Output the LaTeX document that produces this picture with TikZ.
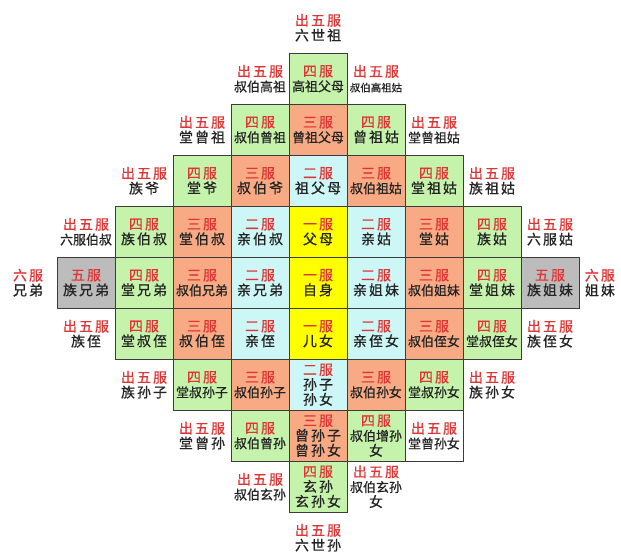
\documentclass[tikz,border=0pt]{standalone}
\usepackage{fontspec}
\setmainfont{Noto Sans CJK SC}[FakeBold=0.7]
\newfontfamily\widefont[LetterSpace=15, FakeBold=0.7]{Noto Sans CJK SC}
\usepackage{tikz}

\definecolor{fuRed}{RGB}{224,52,52}
\definecolor{txtGray}{RGB}{35,35,35}
\definecolor{edgeGray}{RGB}{60,60,60}
\definecolor{siGreen}{RGB}{198,243,172}
\definecolor{sanOrange}{RGB}{247,170,132}
\definecolor{erCyan}{RGB}{205,247,247}
\definecolor{yiYellow}{RGB}{255,255,0}
\definecolor{wuGray}{RGB}{188,188,188}

\newcommand{\fu}[1]{{\color{fuRed}#1}}
\newcommand{\four}[1]{{\normalfont\fontsize{13}{15}\selectfont #1}}
\newcommand{\five}[1]{{\normalfont\fontsize{10.5}{15}\selectfont #1}}

\begin{document}
\begin{tikzpicture}[
  x=58bp, y=51bp,
  cell/.style={rectangle, draw=edgeGray, line width=0.8pt, minimum width=58bp, minimum height=51bp, inner sep=0pt},
  free/.style={rectangle, minimum width=58bp, minimum height=51bp, inner sep=0pt},
  every node/.style={align=center, text=txtGray, font=\widefont\fontsize{14}{15}\selectfont}
]
  \useasboundingbox (-5.483,-5.418) rectangle (5.224,5.543);

  % Six generations up
  \node[free] (liushizu) at (0,5) {\fu{出五服}\\六世祖};

  % Great-great-grandparents
  \node[free] (shubogaozu) at (-1,4) {\fu{出五服}\\\four{叔伯高祖}};
  \node[cell, fill=siGreen] (gaozu) at (0,4) {\fu{四服}\\\four{高祖父母}};
  \node[free] (gaozugu) at (1,4) {\fu{出五服}\\\five{叔伯高祖姑}};

  % Great-grandparents
  \node[free] (tangzengzu) at (-2,3) {\fu{出五服}\\堂曾祖};
  \node[cell, fill=siGreen] (shubozengzu) at (-1,3) {\fu{四服}\\\four{叔伯曾祖}};
  \node[cell, fill=sanOrange] (zengzu) at (0,3) {\fu{三服}\\\four{曾祖父母}};
  \node[cell, fill=siGreen] (zengzugu) at (1,3) {\fu{四服}\\曾祖姑};
  \node[free] (tangzengzugu) at (2,3) {\fu{出五服}\\\four{堂曾祖姑}};

  % Grandparents
  \node[free] (zuye) at (-3,2) {\fu{出五服}\\族爷};
  \node[cell, fill=siGreen] (tangye) at (-2,2) {\fu{四服}\\堂爷};
  \node[cell, fill=sanOrange] (shuboye) at (-1,2) {\fu{三服}\\叔伯爷};
  \node[cell, fill=erCyan] (zufumu) at (0,2) {\fu{二服}\\祖父母};
  \node[cell, fill=sanOrange] (shubozugu) at (1,2) {\fu{三服}\\\four{叔伯祖姑}};
  \node[cell, fill=siGreen] (tangzugu) at (2,2) {\fu{四服}\\堂祖姑};
  \node[free] (zuzugu) at (3,2) {\fu{出五服}\\族祖姑};

  % Parents
  \node[free] (liufubo) at (-4,1) {\fu{出五服}\\\four{六服伯叔}};
  \node[cell, fill=siGreen] (zubo) at (-3,1) {\fu{四服}\\族伯叔};
  \node[cell, fill=sanOrange] (tangbo) at (-2,1) {\fu{三服}\\堂伯叔};
  \node[cell, fill=erCyan] (qinbo) at (-1,1) {\fu{二服}\\亲伯叔};
  \node[cell, fill=yiYellow] (fumu) at (0,1) {\fu{一服}\\父母};
  \node[cell, fill=erCyan] (qingu) at (1,1) {\fu{二服}\\亲姑};
  \node[cell, fill=sanOrange] (tanggu) at (2,1) {\fu{三服}\\堂姑};
  \node[cell, fill=siGreen] (zugu) at (3,1) {\fu{四服}\\族姑};
  \node[free] (liufugu) at (4,1) {\fu{出五服}\\六服姑};

  % Self
  \node[free] (xiongdi) at (-5,0) {\fu{六服}\\兄弟};
  \node[cell, fill=wuGray] (zuxiongdi) at (-4,0) {\fu{五服}\\族兄弟};
  \node[cell, fill=siGreen] (tangxiongdi) at (-3,0) {\fu{四服}\\堂兄弟};
  \node[cell, fill=sanOrange] (shuboxiongdi) at (-2,0) {\fu{三服}\\\four{叔伯兄弟}};
  \node[cell, fill=erCyan] (qinxiongdi) at (-1,0) {\fu{二服}\\亲兄弟};
  \node[cell, fill=yiYellow] (ziji) at (0,0) {\fu{一服}\\自身};
  \node[cell, fill=erCyan] (qinjiemei) at (1,0) {\fu{二服}\\亲姐妹};
  \node[cell, fill=sanOrange] (shubojiemei) at (2,0) {\fu{三服}\\\four{叔伯姐妹}};
  \node[cell, fill=siGreen] (tangjiemei) at (3,0) {\fu{四服}\\堂姐妹};
  \node[cell, fill=wuGray] (zujiemei) at (4,0) {\fu{五服}\\族姐妹};
  \node[free] (jiemei) at (4.86,0) {\fu{六服}\\姐妹};

  % Children
  \node[free] (zuzhi) at (-4,-1) {\fu{出五服}\\族侄};
  \node[cell, fill=siGreen] (tangzhi) at (-3,-1) {\fu{四服}\\堂叔侄};
  \node[cell, fill=sanOrange] (shubozhi) at (-2,-1) {\fu{三服}\\叔伯侄};
  \node[cell, fill=erCyan] (qinzhi) at (-1,-1) {\fu{二服}\\亲侄};
  \node[cell, fill=yiYellow] (ernv) at (0,-1) {\fu{一服}\\儿女};
  \node[cell, fill=erCyan] (qinzhinv) at (1,-1) {\fu{二服}\\亲侄女};
  \node[cell, fill=sanOrange] (shubozhinv) at (2,-1) {\fu{三服}\\\four{叔伯侄女}};
  \node[cell, fill=siGreen] (tangzhinv) at (3,-1) {\fu{四服}\\\four{堂叔侄女}};
  \node[free] (zuzhinv) at (4,-1) {\fu{出五服}\\族侄女};

  % Grandchildren
  \node[free] (zusunzi) at (-3,-2) {\fu{出五服}\\族孙子};
  \node[cell, fill=siGreen] (tangsunzi) at (-2,-2) {\fu{四服}\\\four{堂叔孙子}};
  \node[cell, fill=sanOrange] (shubosunzi) at (-1,-2) {\fu{三服}\\\four{叔伯孙子}};
  \node[cell, fill=erCyan] (sunzi) at (0,-2) {\fu{二服}\\孙子\\孙女};
  \node[cell, fill=sanOrange] (shubosunnv) at (1,-2) {\fu{三服}\\\four{叔伯孙女}};
  \node[cell, fill=siGreen] (tangsunnv) at (2,-2) {\fu{四服}\\\four{堂叔孙女}};
  \node[free] (zusunnv) at (3,-2) {\fu{出五服}\\族孙女};

  % Great-grandchildren
  \node[free] (tangzengsun) at (-2,-3) {\fu{出五服}\\堂曾孙};
  \node[cell, fill=siGreen] (shubozengsun) at (-1,-3) {\fu{四服}\\\four{叔伯曾孙}};
  \node[cell, fill=sanOrange] (zengsun) at (0,-3) {\fu{三服}\\曾孙子\\曾孙女};
  \node[cell, fill=siGreen] (shubozengsunnv) at (1,-3) {\fu{四服}\\\four{叔伯增孙}\\女};
  \node[cell, fill=white] (tangzengsunnv) at (2,-3) {\fu{出五服}\\\four{堂曾孙女}};

  % Great-great-grandchildren
  \node[free] (shuboxuansun) at (-1,-4) {\fu{出五服}\\\four{叔伯玄孙}};
  \node[cell, fill=siGreen] (xuansun) at (0,-4) {\fu{四服}\\玄孙\\玄孙女};
  \node[free] (shuboxuansunnv) at (1,-4) {\fu{出五服}\\\four{叔伯玄孙}\\女};

  % Six generations down
  \node[free] (liushisun) at (0,-5) {\fu{出五服}\\六世孙};

\end{tikzpicture}
\end{document}
